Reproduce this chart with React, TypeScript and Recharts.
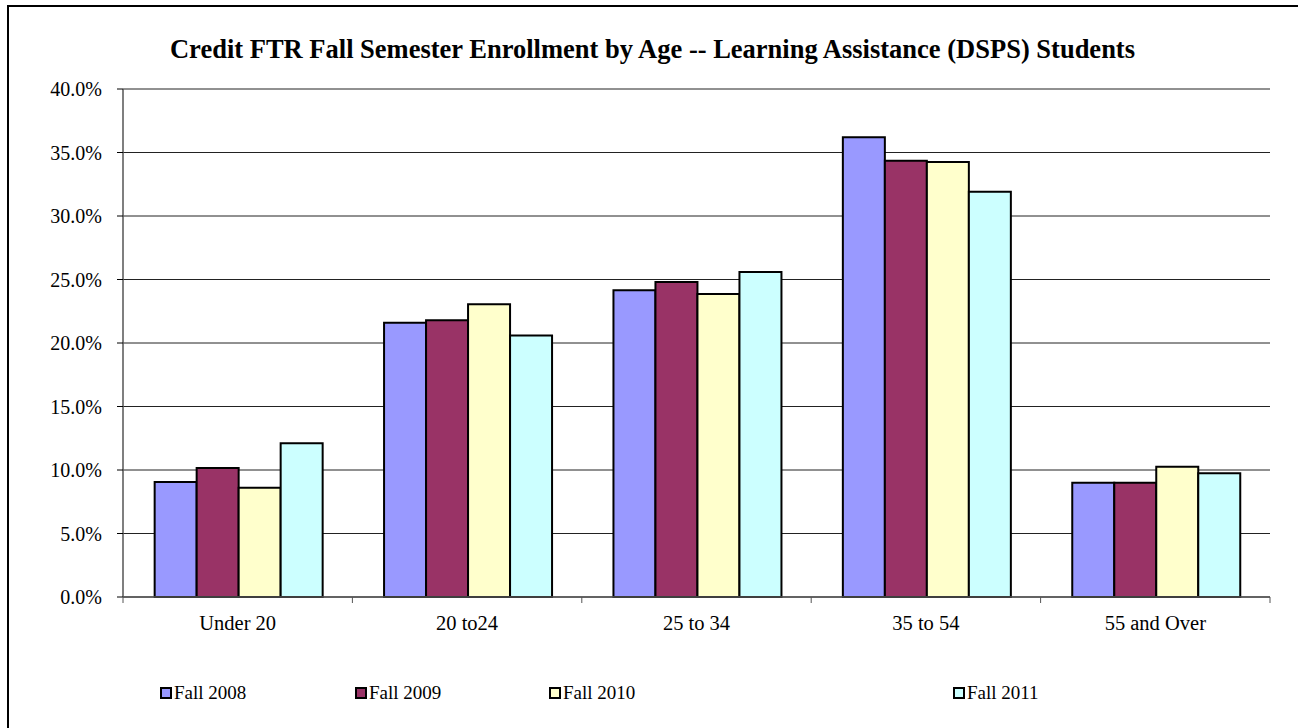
import React from "react";
import { BarChart, Bar, XAxis, YAxis, CartesianGrid, Legend } from "recharts";

const categories = ["Under 20", "20 to24", "25 to 34", "35 to 54", "55 and Over"];
const fall2008 = [9.05, 21.6, 24.15, 36.2, 9.0];
const fall2009 = [10.15, 21.8, 24.8, 34.35, 9.0];
const fall2010 = [8.6, 23.05, 23.85, 34.25, 10.25];
const fall2011 = [12.1, 20.6, 25.6, 31.9, 9.75];
const yTicks = [0, 5, 10, 15, 20, 25, 30, 35, 40];
const seriesNames = ["Fall 2008", "Fall 2009", "Fall 2010", "Fall 2011"];
const seriesColors = ["#9999FF", "#993366", "#FFFFCC", "#CCFFFF"];

const data = categories.map((c, i) => ({
  cat: c,
  s0: fall2008[i],
  s1: fall2009[i],
  s2: fall2010[i],
  s3: fall2011[i],
}));

const W = 1298;
const H = 728;
const PLOT_LEFT = 123;
const PLOT_RIGHT = 1270;
const BAND = (PLOT_RIGHT - PLOT_LEFT) / categories.length;
const FONT = "'Liberation Serif', 'Times New Roman', serif";

const XTick = (props: any) => {
  const { x, payload, index } = props;
  return (
    <g>
      <line x1={x - BAND / 2} x2={x - BAND / 2} y1={597} y2={603} stroke="#555" strokeWidth={1} />
      {index === categories.length - 1 && (
        <line x1={x + BAND / 2} x2={x + BAND / 2} y1={597} y2={603} stroke="#555" strokeWidth={1} />
      )}
      <text x={x} y={630} textAnchor="middle" fontFamily={FONT} fontSize={20.5} fill="#000">
        {payload.value}
      </text>
    </g>
  );
};

const legendX = [160, 355, 549, 953];

const LegendContent = () => (
  <div style={{ position: "relative", width: W, height: 30 }}>
    {seriesNames.map((n, i) => (
      <div
        key={n}
        style={{
          position: "absolute",
          left: legendX[i],
          top: 4,
          display: "flex",
          alignItems: "center",
          fontFamily: FONT,
          fontSize: 19,
          color: "#000",
          lineHeight: "22px",
        }}
      >
        <span
          style={{
            display: "inline-block",
            width: 8,
            height: 8,
            background: seriesColors[i],
            border: "2px solid #000",
            marginRight: 2,
          }}
        />
        {n}
      </div>
    ))}
  </div>
);

export default function App() {
  return (
    <div style={{ position: "absolute", left: 0, top: 0, width: W, height: H, background: "#fff", overflow: "hidden" }}>
      <div
        style={{
          position: "absolute",
          left: 0,
          width: 1305,
          top: 34,
          textAlign: "center",
          fontFamily: FONT,
          fontWeight: "bold",
          fontSize: 26.5,
          color: "#000",
          whiteSpace: "nowrap",
        }}
      >
        Credit FTR Fall Semester Enrollment by Age -- Learning Assistance (DSPS) Students
      </div>
      <div style={{ position: "absolute", left: 0, top: 0 }}>
        <BarChart
          width={W}
          height={H}
          data={data}
          margin={{ top: 89, right: W - PLOT_RIGHT, bottom: 61, left: PLOT_LEFT - 80 }}
          barGap={0}
          barCategoryGap="13.8%"
        >
          <CartesianGrid vertical={false} stroke="#222" strokeWidth={1} />
          <XAxis
            dataKey="cat"
            height={40}
            interval={0}
            tickLine={false}
            axisLine={{ stroke: "#555", strokeWidth: 1.5 }}
            tick={<XTick />}
          />
          <XAxis
            xAxisId="top"
            orientation="top"
            dataKey="cat"
            height={0}
            tick={false}
            tickLine={false}
            axisLine={{ stroke: "#888", strokeWidth: 1.5 }}
          />
          <YAxis
            width={80}
            domain={[0, 40]}
            ticks={yTicks}
            interval={0}
            tickFormatter={(v: number) => v.toFixed(1) + "%"}
            tick={{ fontFamily: FONT, fontSize: 20, fill: "#000" }}
            tickSize={6}
            tickMargin={15}
            tickLine={{ stroke: "#000" }}
            axisLine={{ stroke: "#555", strokeWidth: 1.5 }}
          />
          <YAxis
            yAxisId="right"
            orientation="right"
            width={0}
            domain={[0, 40]}
            tick={false}
            tickLine={false}
            axisLine={{ stroke: "#888", strokeWidth: 1.5 }}
          />
          <Legend
            verticalAlign="bottom"
            height={30}
            wrapperStyle={{ left: 0, bottom: 20, width: W, height: 30 }}
            content={<LegendContent />}
          />
          <Bar dataKey="s0" name={seriesNames[0]} fill={seriesColors[0]} stroke="#000" strokeWidth={2} isAnimationActive={false} />
          <Bar dataKey="s1" name={seriesNames[1]} fill={seriesColors[1]} stroke="#000" strokeWidth={2} isAnimationActive={false} />
          <Bar dataKey="s2" name={seriesNames[2]} fill={seriesColors[2]} stroke="#000" strokeWidth={2} isAnimationActive={false} />
          <Bar dataKey="s3" name={seriesNames[3]} fill={seriesColors[3]} stroke="#000" strokeWidth={2} isAnimationActive={false} />
        </BarChart>
      </div>
      <div
        style={{
          position: "absolute",
          left: 7,
          top: 5,
          width: W,
          height: H,
          borderLeft: "2px solid #000",
          borderTop: "2px solid #000",
          boxSizing: "border-box",
          pointerEvents: "none",
          zIndex: 10,
        }}
      />
    </div>
  );
}
